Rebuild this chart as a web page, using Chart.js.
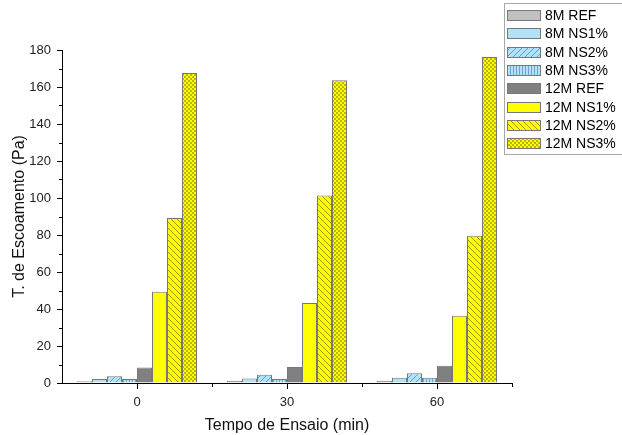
<!DOCTYPE html>
<html>
<head>
<meta charset="utf-8">
<script src="https://cdn.jsdelivr.net/npm/chart.js@4.4.0/dist/chart.umd.min.js"></script>
<style>
html, body { margin: 0; padding: 0; background: #fff; }
</style>
</head>
<body>
<canvas id="chart" width="622" height="435"></canvas>
<script>
// tempo de ensaio (min)
var tempos = ['0', '30', '60'];

// tensao de escoamento (Pa)
var ref8  = [1.0, 1.2, 1.2];
var ns1_8 = [2.2, 2.4, 2.9];
var ns2_8 = [3.6, 4.4, 5.3];
var ns3_8 = [2.2, 2.1, 2.9];
var ref12  = [8.4, 8.6, 9.3];
var ns1_12 = [49.3, 43.2, 36.3];
var ns2_12 = [89.2, 101.4, 79.6];
var ns3_12 = [167.6, 163.6, 176.2];

var yTicks = [0, 20, 40, 60, 80, 100, 120, 140, 160, 180];

var FONT = '"Liberation Sans", Arial, sans-serif';

//make a fill pattern on a small canvas
function makePattern(size, bg, draw) {
    var c = document.createElement('canvas');
    c.width = size; c.height = size;
    var g = c.getContext('2d');
    g.fillStyle = bg;
    g.fillRect(0, 0, size, size);
    draw(g);
    return document.getElementById('chart').getContext('2d').createPattern(c, 'repeat');
}

var blue = '#b3e1f7';
var yellow = '#ffff00';

var pBlueDiag = makePattern(6, blue, function (g) {
    g.strokeStyle = '#5f9fd0'; g.lineWidth = 1;
    g.beginPath();
    g.moveTo(0, 6); g.lineTo(6, 0);
    g.moveTo(-1, 1); g.lineTo(1, -1);
    g.moveTo(5, 7); g.lineTo(7, 5);
    g.stroke();
});
var pBlueVert = makePattern(3, blue, function (g) {
    g.fillStyle = '#6aa6d6';
    g.fillRect(0, 0, 1, 3);
});
var pYellowDiag = makePattern(6, yellow, function (g) {
    g.strokeStyle = '#9c9c00'; g.lineWidth = 1;
    g.beginPath();
    g.moveTo(0, 0); g.lineTo(6, 6);
    g.moveTo(5, -1); g.lineTo(7, 1);
    g.moveTo(-1, 5); g.lineTo(1, 7);
    g.stroke();
});
var pYellowCheck = makePattern(4, yellow, function (g) {
    g.fillStyle = '#b8b800';
    g.fillRect(0, 0, 2, 2);
    g.fillRect(2, 2, 2, 2);
});

//minor ticks like the original plot
var minorTicks = {
    id: 'minorTicks',
    afterDraw: function (chart) {
        var ctx = chart.ctx, x = chart.scales.x, y = chart.scales.y;
        var a = chart.chartArea;
        ctx.save();
        ctx.strokeStyle = '#000';
        ctx.lineWidth = 1;
        ctx.beginPath();
        for (var v = 10; v < 180; v += 20) {
            var py = Math.round(y.getPixelForValue(v)) + 0.5;
            ctx.moveTo(a.left - 3, py); ctx.lineTo(a.left, py);
        }
        var n = tempos.length;
        var step = (a.right - a.left) / n;
        for (var i = 1; i <= n; i++) {
            var px = Math.round(a.left + step * i) + 0.5;
            ctx.moveTo(px, a.bottom); ctx.lineTo(px, a.bottom + 4);
        }
        ctx.stroke();
        ctx.restore();
    }
};

//legend box at top right
var boxLegend = {
    id: 'boxLegend',
    afterDraw: function (chart) {
        var ctx = chart.ctx;
        ctx.save();
        ctx.strokeStyle = '#a8a8a8';
        ctx.lineWidth = 1;
        ctx.strokeRect(504.5, 3.5, 130, 151);
        ctx.font = '14px ' + FONT;
        ctx.textBaseline = 'middle';
        chart.data.datasets.forEach(function (ds, i) {
            var top = Math.round(10 + i * 18.3);
            ctx.fillStyle = ds.backgroundColor;
            ctx.fillRect(507, top, 34, 11);
            ctx.strokeStyle = '#777';
            ctx.strokeRect(507.5, top + 0.5, 33, 10);
            ctx.fillStyle = '#000';
            ctx.fillText(ds.label, 545, top + 6);
        });
        ctx.restore();
    }
};

function bar(label, data, fill) {
    return {
        label: label,
        data: data,
        backgroundColor: fill,
        borderColor: '#777',
        borderWidth: 1,
        barPercentage: 1.0,
        categoryPercentage: 0.8
    };
}

var ctx = document.getElementById('chart').getContext('2d');
var chart = new Chart(ctx, {
    type: 'bar',
    data: {
        labels: tempos,
        datasets: [
            bar('8M REF', ref8, '#c0c0c0'),
            bar('8M NS1%', ns1_8, blue),
            bar('8M NS2%', ns2_8, pBlueDiag),
            bar('8M NS3%', ns3_8, pBlueVert),
            bar('12M REF', ref12, '#808080'),
            bar('12M NS1%', ns1_12, yellow),
            bar('12M NS2%', ns2_12, pYellowDiag),
            bar('12M NS3%', ns3_12, pYellowCheck)
        ]
    },
    options: {
        responsive: false,
        animation: false,
        layout: { padding: { top: 50, right: 110, bottom: 0, left: 0 } },
        plugins: {
            legend: { display: false },
            tooltip: { enabled: false }
        },
        scales: {
            x: {
                offset: true,
                grid: { display: true, drawOnChartArea: false, offset: false, tickLength: 6, color: '#000' },
                border: { display: true, color: '#000', width: 1 },
                ticks: { color: '#222', padding: 6, font: { size: 13, family: FONT } },
                title: {
                    display: true, text: 'Tempo de Ensaio (min)', color: '#111',
                    font: { size: 16, family: FONT }, padding: { top: 0, bottom: 0 }
                },
                afterFit: function (s) { s.height = 52; }
            },
            y: {
                min: 0,
                max: 180,
                afterBuildTicks: function (s) {
                    s.ticks = yTicks.map(function (v) { return { value: v }; });
                },
                grid: { display: true, drawOnChartArea: false, tickLength: 5, color: '#000' },
                border: { display: true, color: '#000', width: 1 },
                ticks: { color: '#222', padding: 6, font: { size: 13, family: FONT } },
                title: {
                    display: true, text: 'T. de Escoamento (Pa)', color: '#111',
                    font: { size: 16, family: FONT }, padding: { top: 10, bottom: 0 }
                },
                afterFit: function (s) { s.width = 62; }
            }
        }
    },
    plugins: [minorTicks, boxLegend]
});
</script>
</body>
</html>
